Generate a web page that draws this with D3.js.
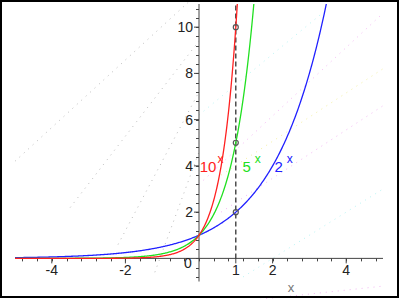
<!DOCTYPE html>
<html>
<head>
<meta charset="utf-8">
<script src="https://cdn.jsdelivr.net/npm/d3@7"></script>
<style>
body { margin: 0; background: #fff; }
svg { display: block; font-family: Arial, "Liberation Sans", sans-serif; }
</style>
</head>
<body>
<div id="chart"></div>
<script>
// curves y = base^x
var bases = [10, 5, 2];
var curveColors = ["#ff2020", "#20e020", "#2020ff"];
var labelX = [0.02, 1.18, 2.05];   // where each label sits (x units)
var xTicks = [-4, -2, 0, 1, 2, 4];
var yTicks = [2, 4, 6, 8, 10];
var markX = 1;

var width = 399, height = 299;
var svg = d3.select("#chart").append("svg")
  .attr("width", width).attr("height", height);

var x = d3.scaleLinear().domain([-5, 5]).range([15, 383]);
var y = d3.scaleLinear().domain([-1, 11]).range([281.5, 4]);

// faint dotted background streaks
var streaks = [
  {c: "#bbb", a: [-5, 4.2], b: [0, 11.5]},
  {c: "#bbb", a: [-3.5, 2.2], b: [0, 9.4]},
  {c: "#bbb", a: [-2.2, 0.6], b: [0, 7.2]},
  {c: "#bbb", a: [-1.2, -0.6], b: [0, 4.6]},
  {c: "#f4b8f4", a: [0, 3.2], b: [5, 10.6]},
  {c: "#b8f4f4", a: [0, 6.2], b: [3.5, 10.8]},
  {c: "#f4f0a0", a: [0.6, 3.6], b: [5, 8.2]},
  {c: "#f4b8f4", a: [0.6, 2.0], b: [5, 6.6]},
  {c: "#b8f4f4", a: [1.2, -0.8], b: [5, 3.0]},
  {c: "#f4b8f4", a: [1.5, -1.8], b: [5, -1.2]}
];
svg.append("g").selectAll("line").data(streaks).enter().append("line")
  .attr("x1", d => x(d.a[0])).attr("y1", d => y(d.a[1]))
  .attr("x2", d => x(d.b[0])).attr("y2", d => y(d.b[1]))
  .attr("stroke", d => d.c).attr("stroke-width", 1)
  .attr("stroke-dasharray", "1,5");

// axes
var axisColor = "#444";
var ax = svg.append("g");
ax.append("line").attr("x1", x(-5)).attr("x2", x(5))
  .attr("y1", y(0)).attr("y2", y(0)).attr("stroke", axisColor);
ax.append("line").attr("x1", x(0)).attr("x2", x(0))
  .attr("y1", y(-1)).attr("y2", y(11)).attr("stroke", axisColor);

// minor ticks every 0.4
var minorX = d3.range(-4.8, 5, 0.4);
ax.selectAll(".mx").data(minorX).enter().append("line")
  .attr("x1", d => Math.round(x(d)) + 0.5).attr("x2", d => Math.round(x(d)) + 0.5)
  .attr("y1", y(0)).attr("y2", y(0) + 3).attr("stroke", axisColor);
var minorY = d3.range(-0.8, 11, 0.4);
ax.selectAll(".my").data(minorY).enter().append("line")
  .attr("y1", d => Math.round(y(d)) + 0.5).attr("y2", d => Math.round(y(d)) + 0.5)
  .attr("x1", x(0) - 3).attr("x2", x(0)).attr("stroke", axisColor);

ax.selectAll(".tx").data(xTicks.filter(d => d !== 0)).enter().append("line")
  .attr("x1", d => x(d)).attr("x2", d => x(d))
  .attr("y1", y(0)).attr("y2", y(0) + 5).attr("stroke", axisColor);
ax.selectAll(".ty").data(yTicks).enter().append("line")
  .attr("y1", d => y(d)).attr("y2", d => y(d))
  .attr("x1", x(0) - 5).attr("x2", x(0)).attr("stroke", axisColor);

ax.selectAll(".lx").data(xTicks).enter().append("text")
  .attr("x", d => d === 0 ? x(0) - 11 : x(d))
  .attr("y", d => d === 0 ? y(0) + 10 : y(0) + 17)
  .attr("text-anchor", "middle")
  .attr("font-size", 14).attr("fill", "#222")
  .text(d => d < 0 ? "-" + Math.abs(d) : d);
ax.selectAll(".ly").data(yTicks).enter().append("text")
  .attr("x", x(0) - 6).attr("y", d => y(d) + 5)
  .attr("text-anchor", "end")
  .attr("font-size", 14).attr("fill", "#222")
  .text(d => d);

svg.append("text").attr("x", x(2.5)).attr("y", 292)
  .attr("text-anchor", "middle").attr("font-size", 13).attr("fill", "#777")
  .text("x");

// dashed marker line
svg.append("line").attr("x1", x(markX)).attr("x2", x(markX))
  .attr("y1", y(0)).attr("y2", y(11))
  .attr("stroke", "#333").attr("stroke-width", 1.3)
  .attr("stroke-dasharray", "5,3");

// curves
svg.append("clipPath").attr("id", "clip").append("rect")
  .attr("x", x(-5)).attr("y", y(11)).attr("width", x(5) - x(-5)).attr("height", y(-1) - y(11));

var line = d3.line().x(d => x(d[0])).y(d => y(d[1]));
var xs = d3.range(-5, 5.001, 0.02);
svg.append("g").attr("clip-path", "url(#clip)")
  .selectAll("path").data(bases.slice().reverse()).enter().append("path")
  .attr("d", b => line(xs.map(v => [v, Math.pow(b, v)])))
  .attr("fill", "none")
  .attr("stroke", b => curveColors[bases.indexOf(b)])
  .attr("stroke-width", 1.3);

// markers at x = 1
svg.selectAll(".mk").data(bases).enter().append("circle")
  .attr("cx", x(markX)).attr("cy", b => y(Math.pow(b, markX)))
  .attr("r", 2.5).attr("fill", "none").attr("stroke", "#555").attr("stroke-width", 1.2);

// labels
var lab = svg.selectAll(".lab").data(bases).enter().append("text")
  .attr("x", (b, i) => x(labelX[i])).attr("y", 172)
  .attr("font-size", 15).attr("fill", (b, i) => curveColors[i]);
lab.append("tspan").text(b => b);
lab.append("tspan").attr("dx", (b, i) => i === 0 ? 1 : 4).attr("dy", -9).attr("font-size", 12).text("x");

// frame
svg.append("rect").attr("x", 1).attr("y", 1).attr("width", width - 2).attr("height", height - 3)
  .attr("fill", "none").attr("stroke", "#000").attr("stroke-width", 2);
</script>
</body>
</html>
